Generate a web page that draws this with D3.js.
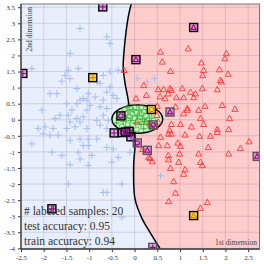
<!DOCTYPE html>
<html>
<head>
<meta charset="utf-8">
<script src="https://cdn.jsdelivr.net/npm/d3@7"></script>
<style>
  body { margin: 0; background: #fff; }
  svg { display: block; }
  .tick text { font-family: "Liberation Serif", serif; font-size: 7px; fill: #333; }
</style>
</head>
<body>
<svg width="264" height="264"></svg>
<script>
// class 1 (blue +)
var blueX = [-1.20,-0.61,-0.54,-1.42,-2.26,-1.46,-1.24,-1.53,-1.42,-1.60,-0.83,-0.69,-0.54,-0.36,-0.76,-1.27,-0.54,-1.86,-1.71,-1.02,
             -0.87,-0.61,-0.47,-0.39,-0.69,-1.13,-1.20,-1.05,-1.27,-1.49,-0.98,-0.76,-0.61,-1.38,-2.04,-1.64,-1.46,-1.27,-1.13,-1.05,
             -1.75,-1.42,-1.20,-0.83,-0.69,-0.58,-2.12,-1.97,-1.79,-1.49,-1.31,-1.05,-0.76,-0.61,-2.01,-1.86,-1.68,-2.26,-1.42,-1.20,
             -1.02,-0.83,-1.13,-1.02,-0.61,-0.47,-1.82,-1.60,-1.24,-1.20,-0.94,-0.36,-0.10,-1.42,-1.02,-0.50,-1.46,-0.28,-0.69,-0.61,
             -0.28,0.06,0.28,0.44,0.57];
var blueY = [2.84,2.58,2.37,2.06,1.59,1.54,1.59,1.38,1.28,1.20,1.18,1.38,1.49,1.54,1.13,0.97,1.02,0.81,0.81,0.81,
             0.71,0.86,0.76,0.66,0.61,0.66,0.61,0.61,0.50,0.50,0.45,0.40,0.35,0.30,0.30,0.14,0.14,0.04,0.09,0.30,
             0.04,-0.07,-0.07,-0.02,0.14,-0.02,-0.27,-0.22,-0.27,-0.27,-0.22,-0.27,-0.17,-0.27,-0.44,-0.48,-0.48,-0.75,-0.64,-0.60,
             -0.60,-0.60,-0.80,-0.80,-0.86,-0.91,-1.01,-1.11,-1.01,-1.22,-1.11,-1.17,-1.01,-1.40,-1.42,-1.32,-2.00,-2.00,-2.26,-2.26,
             -3.03,1.28,1.18,1.28,-1.74];

// class 2 (red triangles)
var redX = [-0.23,0.57,1.18,2.02,1.99,0.61,1.47,1.52,1.87,0.79,1.50,2.06,1.89,1.91,0.20,0.52,0.64,0.78,0.81,1.05,
            1.49,1.82,0.74,1.23,1.34,0.03,0.26,0.92,1.08,1.30,0.50,0.90,1.16,1.16,1.41,1.55,1.93,2.21,1.08,1.45,
            2.09,0.81,1.01,1.25,1.52,1.82,2.07,0.77,0.57,0.75,0.81,1.11,1.43,1.67,1.82,2.52,0.53,0.72,0.95,1.01,
            1.62,2.33,0.31,0.39,0.74,0.75,0.99,1.41,2.07,0.97,1.45,1.49,0.79,1.11,1.08,0.86,0.90,0.75,1.60,1.45,
            0.05,0.25,0.33,0.52,0.45,0.49,0.56,0.67,0.18,0.34];
var redY = [1.54,2.11,2.21,2.06,1.90,1.80,1.77,1.54,1.56,1.51,1.38,1.42,1.23,1.18,1.07,0.94,0.94,0.97,0.92,0.97,
            0.97,0.94,0.81,0.86,0.81,0.66,0.76,0.69,0.69,0.69,0.42,0.40,0.35,0.30,0.30,0.42,0.45,0.33,0.19,0.04,
            0.04,-0.14,-0.14,-0.22,-0.14,-0.30,-0.30,-0.33,-0.54,-0.44,-0.44,-0.47,-0.51,-0.51,-0.39,-0.68,-0.80,-0.80,-0.72,-0.82,
            -0.86,-0.89,-1.17,-1.30,-1.11,-1.24,-1.06,-1.06,-1.06,-1.32,-1.32,-1.42,-1.51,-1.55,-1.69,-1.92,-2.28,-2.54,-2.57,-2.75,
            -0.07,-0.07,-0.12,-0.07,-0.22,0.14,0.72,0.66,-0.92,-1.20];

// class 3 (green), drawn as + and o
var greenPlusX = [-0.35,-0.25,-0.18,-0.12,-0.08,-0.03,0.02,0.06,0.10,0.14,0.18,0.22,0.28,0.33,-0.10,0.20,0.38,-0.40,-0.15,0.35];
var greenPlusY = [0.05,-0.05,0.05,0.28,-0.02,0.32,-0.10,0.12,0.30,-0.15,0.02,-0.05,0.32,0.05,-0.25,-0.28,0.20,-0.10,0.40,-0.25];
var greenCircX = [-0.30,-0.20,-0.15,-0.10,-0.05,0.00,0.04,0.08,0.12,0.16,0.20,0.25,0.30,-0.28,0.05,-0.22,0.42,0.00,0.15,-0.05];
var greenCircY = [0.15,0.20,-0.15,0.10,0.18,0.05,0.22,-0.02,0.08,0.18,0.25,0.12,-0.10,-0.20,-0.30,0.32,-0.02,0.38,0.38,-0.40];

// labeled samples: position, class, highlight (0 black, 1 grey, 2 yellow)
var labX = [-0.70,-2.46,-0.92,1.30,0.03,0.37,0.78,-0.30,0.41,-0.45,-0.27,-0.12,-0.08,0.06,0.28,2.70,1.30,0.40,-1.82,-0.20];
var labY = [3.51,1.44,1.31,2.87,1.87,0.32,0.24,0.12,-0.16,-0.41,-0.40,-0.36,-0.53,-0.72,-0.95,-1.14,-2.98,-3.97,-2.77,-0.38];
var labClass = ['+','+','+','t','t','o','t','o','o','+','o','o','+','o','t','t','t','+','+','o'];
var labKind = [0,0,2,0,0,2,1,0,1,0,0,0,0,1,1,1,2,1,0,0];

// decision boundary and green region
var boundX = [-0.07,-0.14,-0.23,-0.25,-0.21,-0.14,-0.08,0.01,-0.02,0.01,0.17,0.34,0.58];
var boundY = [3.62,3.19,2.16,1.63,1.14,0.61,0.00,-0.64,-1.42,-2.47,-3.09,-3.50,-4.05];
var ellipseC = [0.06, 0.02], ellipseR = [0.56, 0.44];

var xTicks = d3.range(-2.5, 2.51, 0.5);
var yTicks = d3.range(-4, 3.51, 0.5);

var x = d3.scaleLinear().domain([-2.5, 2.75]).range([21, 259.5]);
var y = d3.scaleLinear().domain([-4.02, 3.6]).range([249, 4]);

var svg = d3.select('svg');
svg.append('clipPath').attr('id', 'plot')
    .append('rect').attr('x', 21).attr('y', 4).attr('width', 238.5).attr('height', 245);
var g = svg.append('g').attr('clip-path', 'url(#plot)');

g.append('rect').attr('x', 21).attr('y', 4).attr('width', 238.5).attr('height', 245)
    .style('fill', '#ffcccc');

var bpts = boundX.map(function(d, i) { return [x(d), y(boundY[i])]; });
var curve = d3.line().curve(d3.curveCatmullRom);
var left = curve(bpts) + 'L' + x(-2.6) + ',' + y(-4.1) + 'L' + x(-2.6) + ',' + y(3.7) + 'Z';
g.append('path').attr('d', left).style('fill', '#e8eefb');

// grid
g.selectAll('.vg').data(xTicks).enter().append('line')
    .attr('x1', x).attr('x2', x).attr('y1', 4).attr('y2', 249)
    .style('stroke', 'rgba(70,60,110,0.2)').style('stroke-width', 0.8);
g.selectAll('.hg').data(yTicks).enter().append('line')
    .attr('y1', y).attr('y2', y).attr('x1', 21).attr('x2', 259.5)
    .style('stroke', 'rgba(70,60,110,0.2)').style('stroke-width', 0.8);

g.append('path').attr('d', curve(bpts))
    .style('fill', 'none').style('stroke', '#000').style('stroke-width', 1.5);

g.append('ellipse')
    .attr('cx', x(ellipseC[0])).attr('cy', y(ellipseC[1]))
    .attr('rx', x(ellipseR[0]) - x(0)).attr('ry', y(0) - y(ellipseR[1]))
    .style('fill', '#c8f0c4').style('stroke', '#000').style('stroke-width', 1.5);

function plus(sel, s) {
  return sel.append('path').attr('d', 'M' + (-s) + ',0H' + s + 'M0,' + (-s) + 'V' + s);
}
function tri(sel, s) {
  return sel.append('path').attr('d', 'M0,' + (-s) + 'L' + (s * 0.95) + ',' + (s * 0.7) + 'L' + (-s * 0.95) + ',' + (s * 0.7) + 'Z');
}

// blue +
g.selectAll('.b').data(blueX).enter().append('g')
    .attr('transform', function(d, i) { return 'translate(' + x(d) + ',' + y(blueY[i]) + ')'; })
    .call(plus, 3.5).selectAll('path')
    .style('stroke', '#a4bdf0').style('stroke-width', 1);

// red triangles
g.selectAll('.r').data(redX).enter().append('g')
    .attr('transform', function(d, i) { return 'translate(' + x(d) + ',' + y(redY[i]) + ')'; })
    .call(tri, 3.2).selectAll('path')
    .style('fill', 'none').style('stroke', '#ff3535').style('stroke-width', 0.9);

// green
g.selectAll('.gp').data(greenPlusX).enter().append('g')
    .attr('transform', function(d, i) { return 'translate(' + x(d) + ',' + y(greenPlusY[i]) + ')'; })
    .call(plus, 3.3).selectAll('path')
    .style('stroke', '#2db52d').style('stroke-width', 0.9);
g.selectAll('.gc').data(greenCircX).enter().append('circle')
    .attr('cx', x).attr('cy', function(d, i) { return y(greenCircY[i]); }).attr('r', 2.5)
    .style('fill', 'none').style('stroke', '#3cb83c').style('stroke-width', 0.8);

// labeled samples
var edge = ['#000', '#555', '#000'];
var lab = g.selectAll('.l').data(labX).enter().append('g')
    .attr('transform', function(d, i) { return 'translate(' + x(d) + ',' + y(labY[i]) + ')'; });
lab.append('rect').attr('x', -4).attr('y', -4).attr('width', 8).attr('height', 8)
    .style('fill', function(d, i) { return labKind[i] == 2 ? '#ffd44a' : 'rgba(170,60,170,0.35)'; })
    .style('stroke', function(d, i) { return edge[labKind[i]]; }).style('stroke-width', 1.4);
lab.each(function(d, i) {
  var s = d3.select(this), c = labKind[i] == 2 ? '#e08800' : '#990099';
  var m;
  if (labClass[i] == '+') m = plus(s, 3);
  else if (labClass[i] == 't') m = tri(s, 2.7);
  else m = s.append('circle').attr('r', 2.2);
  m.style('fill', 'none').style('stroke', c).style('stroke-width', 1.1);
});

// axes
var fmt = function(d) { return String(Math.round(d * 10) / 10); };
svg.append('g').attr('transform', 'translate(0,249)')
    .call(d3.axisBottom(x).tickValues(xTicks).tickSize(3).tickSizeOuter(0).tickFormat(fmt))
    .call(function(a) { a.select('.domain').remove(); a.selectAll('line').style('stroke', '#333'); });
svg.append('g').attr('transform', 'translate(21,0)')
    .call(d3.axisLeft(y).tickValues(yTicks).tickSize(3).tickSizeOuter(0).tickFormat(fmt))
    .call(function(a) { a.select('.domain').remove(); a.selectAll('line').style('stroke', '#333'); });

svg.append('rect').attr('x', 21).attr('y', 4).attr('width', 238.5).attr('height', 245)
    .style('fill', 'none').style('stroke', '#777').style('stroke-width', 1);
svg.append('path').attr('d', 'M21,4V249H259.5')
    .style('fill', 'none').style('stroke', '#444').style('stroke-width', 1.3);

svg.append('text').attr('transform', 'translate(32,7) rotate(-90)')
    .style('text-anchor', 'end').style('font-family', 'Liberation Serif, serif').style('font-size', '7.5px')
    .style('fill', '#444').text('2nd dimension');
svg.append('text').attr('x', 257).attr('y', 245)
    .style('text-anchor', 'end').style('font-family', 'Liberation Serif, serif').style('font-size', '7.5px')
    .style('fill', '#444').text('1st dimension');

var stats = ['# labeled samples: 20', 'test accuracy: 0.95', 'train accuracy: 0.94'];
svg.selectAll('.st').data(stats).enter().append('text')
    .attr('x', 24).attr('y', function(d, i) { return 215 + i * 15; })
    .style('font-family', 'Liberation Serif, serif').style('font-size', '11.5px').style('fill', '#333')
    .text(function(d) { return d; });
</script>
</body>
</html>
